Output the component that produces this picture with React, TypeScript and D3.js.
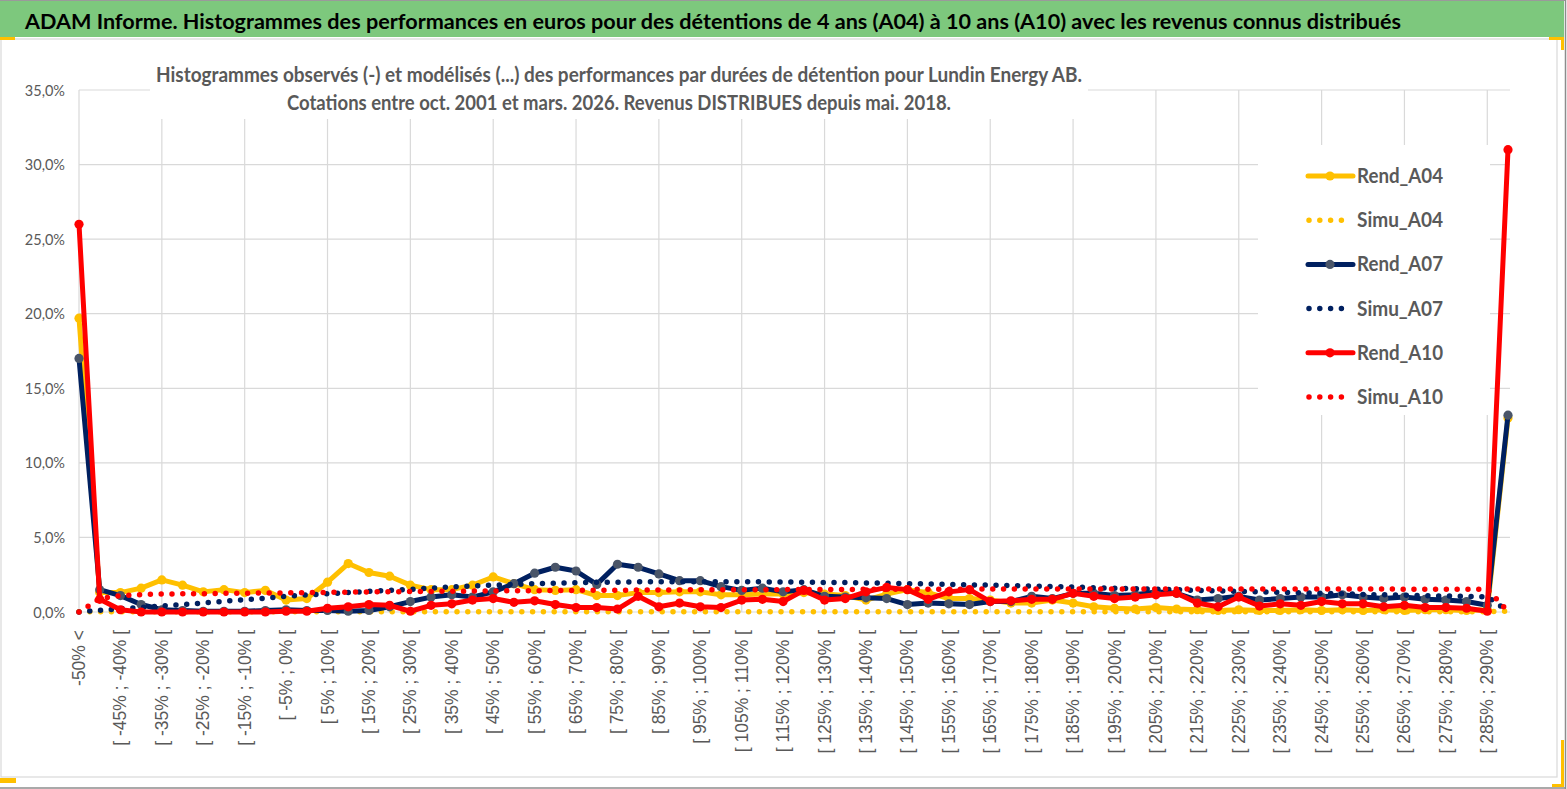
import React from 'react';
import * as d3 from 'd3';

const categories: string[] = [
  '-50% <', '[ -50% ; -45% [', '[ -45% ; -40% [', '[ -40% ; -35% [', '[ -35% ; -30% [',
  '[ -30% ; -25% [', '[ -25% ; -20% [', '[ -20% ; -15% [', '[ -15% ; -10% [', '[ -10% ; -5% [',
  '[ -5% ; 0% [', '[ 0% ; 5% [', '[ 5% ; 10% [', '[ 10% ; 15% [', '[ 15% ; 20% [',
  '[ 20% ; 25% [', '[ 25% ; 30% [', '[ 30% ; 35% [', '[ 35% ; 40% [', '[ 40% ; 45% [',
  '[ 45% ; 50% [', '[ 50% ; 55% [', '[ 55% ; 60% [', '[ 60% ; 65% [', '[ 65% ; 70% [',
  '[ 70% ; 75% [', '[ 75% ; 80% [', '[ 80% ; 85% [', '[ 85% ; 90% [', '[ 90% ; 95% [',
  '[ 95% ; 100% [', '[ 100% ; 105% [', '[ 105% ; 110% [', '[ 110% ; 115% [', '[ 115% ; 120% [',
  '[ 120% ; 125% [', '[ 125% ; 130% [', '[ 130% ; 135% [', '[ 135% ; 140% [', '[ 140% ; 145% [',
  '[ 145% ; 150% [', '[ 150% ; 155% [', '[ 155% ; 160% [', '[ 160% ; 165% [', '[ 165% ; 170% [',
  '[ 170% ; 175% [', '[ 175% ; 180% [', '[ 180% ; 185% [', '[ 185% ; 190% [', '[ 190% ; 195% [',
  '[ 195% ; 200% [', '[ 200% ; 205% [', '[ 205% ; 210% [', '[ 210% ; 215% [', '[ 215% ; 220% [',
  '[ 220% ; 225% [', '[ 225% ; 230% [', '[ 230% ; 235% [', '[ 235% ; 240% [', '[ 240% ; 245% [',
  '[ 245% ; 250% [', '[ 250% ; 255% [', '[ 255% ; 260% [', '[ 260% ; 265% [', '[ 265% ; 270% [',
  '[ 270% ; 275% [', '[ 275% ; 280% [', '[ 280% ; 285% [', '[ 285% ; 290% [', '> 290%',
];

const yTicks: number[] = [0, 5, 10, 15, 20, 25, 30, 35];
const yTickLabels: string[] = ['0,0%', '5,0%', '10,0%', '15,0%', '20,0%', '25,0%', '30,0%', '35,0%'];

const rendA04: number[] = [
  19.7, 1.3, 1.3, 1.6, 2.15, 1.8, 1.35, 1.5, 1.3, 1.45,
  0.8, 0.9, 2.0, 3.25, 2.65, 2.4, 1.8, 1.5, 1.5, 1.8,
  2.35, 1.9, 1.5, 1.45, 1.5, 1.1, 1.1, 1.3, 1.3, 1.35,
  1.35, 1.15, 1.15, 1.2, 1.2, 1.3, 1.2, 1.1, 0.8, 1.2,
  1.5, 1.3, 0.9, 0.9, 0.8, 0.6, 0.6, 0.8, 0.6, 0.35,
  0.25, 0.2, 0.3, 0.2, 0.15, 0.1, 0.15, 0.1, 0.1, 0.15,
  0.1, 0.15, 0.1, 0.15, 0.1, 0.15, 0.15, 0.1, 0.15, 13.0,
];
const simuA04: number[] = [
  0.02, 0.02, 0.02, 0.02, 0.02, 0.02, 0.02, 0.02, 0.02, 0.02,
  0.02, 0.02, 0.02, 0.02, 0.02, 0.02, 0.02, 0.02, 0.02, 0.02,
  0.02, 0.02, 0.02, 0.02, 0.02, 0.02, 0.02, 0.02, 0.02, 0.02,
  0.02, 0.02, 0.02, 0.02, 0.02, 0.02, 0.02, 0.02, 0.02, 0.02,
  0.02, 0.02, 0.02, 0.02, 0.02, 0.02, 0.02, 0.02, 0.02, 0.02,
  0.02, 0.02, 0.02, 0.02, 0.02, 0.02, 0.02, 0.02, 0.02, 0.02,
  0.02, 0.02, 0.02, 0.02, 0.02, 0.02, 0.02, 0.02, 0.02, 0.05,
];
const rendA07: number[] = [
  17.0, 1.5, 1.1, 0.5, 0.15, 0.1, 0.05, 0.05, 0.05, 0.1,
  0.15, 0.1, 0.1, 0.05, 0.1, 0.35, 0.7, 1.0, 1.15, 1.0,
  1.35, 1.9, 2.6, 3.0, 2.75, 1.85, 3.2, 3.0, 2.55, 2.1,
  2.1, 1.7, 1.45, 1.6, 1.35, 1.5, 1.05, 1.0, 0.95, 0.9,
  0.5, 0.6, 0.55, 0.5, 0.7, 0.7, 1.05, 0.9, 1.25, 1.25,
  1.1, 1.15, 1.35, 1.25, 0.8, 0.9, 1.05, 0.8, 0.9, 1.0,
  1.0, 1.15, 1.0, 0.9, 1.0, 0.85, 0.8, 0.7, 0.45, 13.2,
];
const simuA07: number[] = [
  0.0, 0.12, 0.22, 0.3, 0.4, 0.5, 0.6, 0.72, 0.82, 0.92,
  1.05, 1.15, 1.22, 1.3, 1.38, 1.45, 1.52, 1.6, 1.68, 1.74,
  1.8, 1.85, 1.9, 1.94, 1.97, 1.99, 2.0, 2.02, 2.03, 2.03,
  2.03, 2.03, 2.03, 2.02, 2.01, 2.0, 1.98, 1.97, 1.95, 1.93,
  1.9, 1.88, 1.85, 1.82, 1.8, 1.77, 1.74, 1.7, 1.67, 1.63,
  1.6, 1.56, 1.52, 1.49, 1.45, 1.42, 1.38, 1.35, 1.32, 1.28,
  1.25, 1.22, 1.18, 1.15, 1.12, 1.1, 1.07, 1.05, 1.02, 0.05,
];
const rendA10: number[] = [
  26.0, 0.85, 0.15, 0.0, 0.0, 0.0, 0.0, 0.0, 0.0, 0.0,
  0.05, 0.05, 0.25, 0.35, 0.5, 0.45, 0.05, 0.45, 0.55, 0.8,
  0.9, 0.65, 0.75, 0.5, 0.3, 0.3, 0.2, 1.05, 0.35, 0.6,
  0.35, 0.3, 0.8, 0.85, 0.7, 1.45, 0.8, 0.9, 1.35, 1.65,
  1.5, 0.85, 1.35, 1.5, 0.7, 0.75, 0.85, 0.85, 1.25, 1.05,
  0.9, 1.0, 1.15, 1.25, 0.6, 0.35, 1.0, 0.4, 0.55, 0.45,
  0.7, 0.55, 0.55, 0.35, 0.45, 0.3, 0.3, 0.25, 0.05, 31.0,
];
const simuA10: number[] = [
  0.0, 0.9, 1.1, 1.17, 1.2, 1.22, 1.23, 1.25, 1.26, 1.27,
  1.28, 1.3, 1.32, 1.33, 1.35, 1.36, 1.37, 1.38, 1.39, 1.4,
  1.41, 1.42, 1.43, 1.44, 1.45, 1.46, 1.46, 1.47, 1.48, 1.48,
  1.49, 1.49, 1.5, 1.5, 1.5, 1.51, 1.51, 1.51, 1.52, 1.52,
  1.52, 1.53, 1.53, 1.53, 1.54, 1.54, 1.54, 1.55, 1.55, 1.55,
  1.55, 1.55, 1.55, 1.55, 1.55, 1.55, 1.55, 1.55, 1.55, 1.55,
  1.55, 1.54, 1.54, 1.54, 1.53, 1.53, 1.53, 1.52, 1.52, 0.05,
];

const seriesNames: string[] = ['Rend_A04', 'Simu_A04', 'Rend_A07', 'Simu_A07', 'Rend_A10', 'Simu_A10'];

const YELLOW = '#FFC000';
const NAVY = '#002060';
const RED = '#FF0000';
const GREY = '#595959';
const GRID = '#D9D9D9';

type Series = { name: string; values: number[]; color: string; dotted: boolean; marker?: string };

const series: Series[] = [
  { name: seriesNames[0], values: rendA04, color: YELLOW, dotted: false, marker: YELLOW },
  { name: seriesNames[1], values: simuA04, color: YELLOW, dotted: true },
  { name: seriesNames[2], values: rendA07, color: NAVY, dotted: false, marker: '#4A5568' },
  { name: seriesNames[3], values: simuA07, color: NAVY, dotted: true },
  { name: seriesNames[4], values: rendA10, color: RED, dotted: false, marker: RED },
  { name: seriesNames[5], values: simuA10, color: RED, dotted: true },
];

const FONT = "Lato, 'Open Sans', sans-serif";

export default function App() {
  const W = 1567;
  const H = 789;
  const idx = d3.range(categories.length);
  const x = d3.scalePoint<number>().domain(idx).range([79, 1508]);
  const y = d3.scaleLinear().domain([0, 35]).range([612, 90]);
  const plotRight = 1510;

  const line = d3
    .line<number>()
    .x((_, i) => x(i) as number)
    .y((d) => y(d));

  const legendX = 1308;
  const legendY0 = 176;
  const legendStep = 44.2;
  const solidW = 5;
  const dotW = 5.5;
  const dash = '0 10.8';

  return (
    <svg width={W} height={H} style={{ position: 'absolute', left: 0, top: 0, background: '#fff' }}>
      <rect x={0} y={0} width={W} height={H} fill="#fff" />
      {/* title band */}
      <rect x={0} y={0} width={1564} height={37} fill="#7DC87D" />
      <line x1={0} y1={0.5} x2={1566} y2={0.5} stroke="#9a9a9a" strokeWidth={1} />
      <text
        x={25}
        y={29}
        fontFamily={FONT}
        fontWeight={700}
        fontSize={21.5}
        fill="#000"
        textLength={1376}
        lengthAdjust="spacingAndGlyphs"
      >
        ADAM Informe. Histogrammes des performances en euros pour des détentions de 4 ans (A04) à 10 ans (A10) avec les revenus connus distribués
      </text>

      {/* chart frame */}
      <rect x={1} y={39} width={1556} height={738} fill="none" stroke={GRID} strokeWidth={1.2} />
      <line x1={0} y1={788} x2={1566} y2={788} stroke="#8c8c8c" strokeWidth={1.5} />
      <line x1={1565.5} y1={0} x2={1565.5} y2={789} stroke="#8c8c8c" strokeWidth={1.5} />
      {/* yellow corner handles */}
      <rect x={0} y={37} width={15} height={3} fill={YELLOW} />
      <rect x={1549} y={37} width={15} height={3} fill={YELLOW} />
      <rect x={1561} y={37} width={3} height={13} fill={YELLOW} />
      <rect x={0} y={778} width={16} height={5} fill={YELLOW} />
      <rect x={1561} y={740} width={3} height={47} fill={YELLOW} />
      <rect x={1552} y={784} width={12} height={3} fill={YELLOW} />

      {/* gridlines */}
      {yTicks.map((t) => (
        <line key={'h' + t} x1={79} x2={plotRight} y1={y(t)} y2={y(t)} stroke={GRID} strokeWidth={1.2} />
      ))}
      {idx
        .filter((i) => i % 4 === 0)
        .map((i) => (
          <line key={'v' + i} x1={x(i)} x2={x(i)} y1={y(35)} y2={y(0)} stroke={GRID} strokeWidth={1.2} />
        ))}

      {/* subtitle box */}
      <rect x={150} y={58} width={938} height={61} fill="#fff" />
      <text
        x={619}
        y={82}
        textAnchor="middle"
        fontFamily={FONT}
        fontWeight={700}
        fontSize={21}
        fill={GREY}
        textLength={926}
        lengthAdjust="spacingAndGlyphs"
      >
        Histogrammes observés (-) et modélisés (...) des performances par durées de détention pour Lundin Energy AB.
      </text>
      <text
        x={619}
        y={110}
        textAnchor="middle"
        fontFamily={FONT}
        fontWeight={700}
        fontSize={21}
        fill={GREY}
        textLength={664}
        lengthAdjust="spacingAndGlyphs"
      >
        Cotations entre oct. 2001 et mars. 2026. Revenus DISTRIBUES depuis mai. 2018.
      </text>

      {/* y axis labels */}
      {yTicks.map((t, k) => (
        <text
          key={'yl' + t}
          x={65}
          y={y(t)}
          textAnchor="end"
          dominantBaseline="central"
          fontFamily={FONT}
          fontSize={14.5}
          fill={GREY}
        >
          {yTickLabels[k]}
        </text>
      ))}

      {/* x axis labels */}
      {idx
        .filter((i) => i % 2 === 0)
        .map((i) => (
          <text
            key={'xl' + i}
            transform={`translate(${x(i)},${630}) rotate(-90)`}
            textAnchor="end"
            dominantBaseline="central"
            fontFamily="'Liberation Sans', Arial, sans-serif"
            fontSize={17.5}
            fill={GREY}
          >
            {categories[i]}
          </text>
        ))}

      {/* series */}
      {series.map((s) => (
        <g key={s.name}>
          <path
            d={line(s.values) || ''}
            fill="none"
            stroke={s.color}
            strokeWidth={s.dotted ? dotW : solidW}
            strokeLinecap="round"
            strokeLinejoin="round"
            strokeDasharray={s.dotted ? dash : undefined}
          />
          {s.marker &&
            s.values.map((v, i) => (
              <circle key={i} cx={x(i)} cy={y(v)} r={4.6} fill={s.marker} />
            ))}
        </g>
      ))}

      {/* legend */}
      <rect x={1258} y={145} width={232} height={270} fill="#fff" />
      {series.map((s, k) => {
        const ly = legendY0 + k * legendStep;
        return (
          <g key={'lg' + s.name}>
            <line
              x1={legendX + (s.dotted ? 1 : 0)}
              x2={s.dotted ? legendX + (s.color === RED ? 44 : 36) : legendX + 45}
              y1={ly}
              y2={ly}
              stroke={s.color}
              strokeWidth={s.dotted ? dotW : solidW}
              strokeLinecap="round"
              strokeDasharray={s.dotted ? dash : undefined}
            />
            {s.marker && <circle cx={legendX + 22} cy={ly} r={4.6} fill={s.marker} />}
            <text
              x={1357}
              y={ly + 7}
              fontFamily={FONT}
              fontWeight={700}
              fontSize={20.5}
              fill={GREY}
              textLength={86}
              lengthAdjust="spacingAndGlyphs"
            >
              {s.name}
            </text>
          </g>
        );
      })}
    </svg>
  );
}
